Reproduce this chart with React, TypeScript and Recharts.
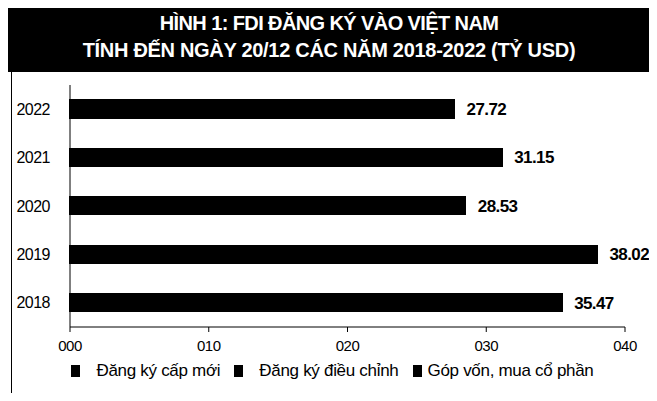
import React from 'react';
import {
  BarChart,
  Bar,
  XAxis,
  YAxis,
  Legend,
  LabelList,
} from 'recharts';

const years = ['2022', '2021', '2020', '2019', '2018'];
const newReg = [12.45, 15.15, 14.44, 16.75, 17.98];
const adjusted = [10.12, 9.01, 6.6, 5.8, 7.6];
const capital = [5.15, 6.99, 7.49, 15.47, 9.89];
const totals = [27.72, 31.15, 28.53, 38.02, 35.47];
const xTicks = [0, 10, 20, 30, 40];
const seriesNames = ['Đăng ký cấp mới', 'Đăng ký điều chỉnh', 'Góp vốn, mua cổ phần'];

const data = years.map((y, i) => ({
  year: y,
  [seriesNames[0]]: newReg[i],
  [seriesNames[1]]: adjusted[i],
  [seriesNames[2]]: capital[i],
  total: totals[i],
}));

const font = '"Liberation Sans", Arial, sans-serif';

function renderLegend() {
  return (
    <div
      style={{
        display: 'flex',
        justifyContent: 'center',
        gap: 14,
        fontFamily: font,
        fontSize: 17,
        letterSpacing: -0.3,
        color: '#000',
        paddingLeft: 40,
      }}
    >
      {seriesNames.map((n, i) => (
        <div key={n} style={{ display: 'flex', alignItems: 'center' }}>
          <span
            style={{
              display: 'inline-block',
              width: 9,
              height: 12,
              background: '#000',
              marginRight: i === 2 ? 6 : 16,
            }}
          />
          {n}
        </div>
      ))}
    </div>
  );
}

export default function App() {
  return (
    <div
      style={{
        position: 'relative',
        width: 657,
        height: 401,
        margin: -8,
        background: '#fff',
        overflow: 'hidden',
      }}
    >
      <div
        style={{
          position: 'absolute',
          left: 8,
          top: 0,
          width: 642,
          height: 72,
          background: '#000',
          color: '#fff',
          fontFamily: font,
          fontWeight: 700,
          fontSize: 20,
          lineHeight: '27px',
          textAlign: 'center',
          paddingTop: 10,
          boxSizing: 'border-box',
        }}
      >
        <div style={{ letterSpacing: -0.6 }}>HÌNH 1: FDI ĐĂNG KÝ VÀO VIỆT NAM</div>
        <div style={{ letterSpacing: -0.3 }}>TÍNH ĐẾN NGÀY 20/12 CÁC NĂM 2018-2022 (TỶ USD)</div>
      </div>
      <div
        style={{
          position: 'absolute',
          left: 11,
          top: 72,
          width: 641,
          height: 327,
          border: '1px solid #000',
          borderTop: 'none',
          boxSizing: 'border-box',
        }}
      />
      <div style={{ position: 'absolute', left: 0, top: 72 }}>
        <BarChart
          width={657}
          height={329}
          data={data}
          layout="vertical"
          barSize={18}
          margin={{ top: 13, right: 32, left: 0, bottom: 12 }}
        >
          <XAxis
            type="number"
            domain={[0, 40]}
            ticks={xTicks}
            tickFormatter={(v) => String(v).padStart(3, '0')}
            tick={{ fill: '#000', fontSize: 15, fontFamily: font, letterSpacing: -0.5 }}
            stroke="#000"
            tickSize={5}
            tickMargin={8}
            height={34}
          />
          <YAxis
            type="category"
            dataKey="year"
            width={70}
            tick={{ fill: '#000', fontSize: 16, fontFamily: font, letterSpacing: -0.5 }}
            stroke="#000"
            tickLine={false}
            tickMargin={14}
          />
          <Legend verticalAlign="bottom" height={28} content={renderLegend} />
          <Bar dataKey={seriesNames[0]} stackId="a" fill="#000" stroke="#000" strokeWidth={1.2} shapeRendering="crispEdges" isAnimationActive={false} />
          <Bar dataKey={seriesNames[1]} stackId="a" fill="#000" stroke="#000" strokeWidth={1.2} shapeRendering="crispEdges" isAnimationActive={false} />
          <Bar dataKey={seriesNames[2]} stackId="a" fill="#000" stroke="#000" strokeWidth={1.2} shapeRendering="crispEdges" isAnimationActive={false}>
            <LabelList
              dataKey="total"
              position="right"
              offset={12}
              formatter={(v: number) => v.toFixed(2)}
              style={{ fill: '#000', fontSize: 17, fontWeight: 700, fontFamily: font, letterSpacing: -0.6 }}
            />
          </Bar>
        </BarChart>
      </div>
    </div>
  );
}
